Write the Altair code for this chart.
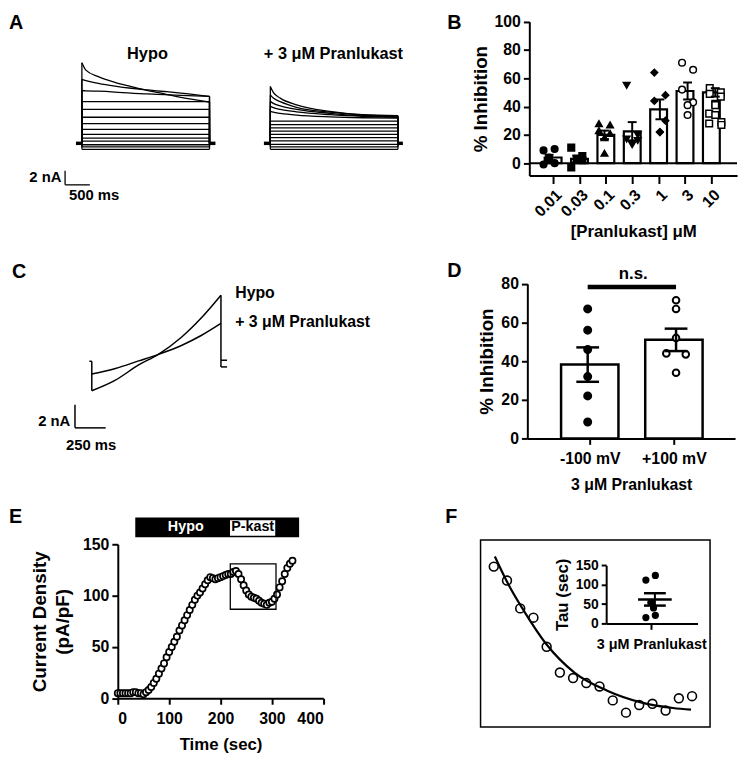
import altair as alt
import pandas as pd

OX, OY = 8, 8
W, H = 742, 755
FONT = "Liberation Sans"


def px(x):
    return x - OX


def py(y):
    return y - OY


ONE = pd.DataFrame({"k": [0]})

# ---------------- data ----------------
# Panel A: step currents (ms, nA)
A_T = [0, 80, 333, 667, 1000, 1333, 1667, 2000, 2580]
A_HYPO_DECAY = [
    [11.38, 10.35, 9.43, 8.63, 8.03, 7.47, 7.0, 6.49, 5.83],
    [9.05, 8.87, 8.49, 8.1, 7.79, 7.55, 7.33, 7.1, 6.63],
    [7.47, 7.42, 7.37, 7.25, 7.09, 6.98, 6.88, 6.78, 6.63],
]
A_HYPO_FLAT = [5.9, 4.8, 3.69, 2.78, 1.96, 1.26, 0.75, 0.3, -0.2, -0.5, -0.84]
A_PK_T = [0, 60, 200, 530, 1200, 1870, 2580]
A_PK_DECAY = [
    [8.03, 7.2, 6.39, 5.45, 4.53, 4.06, 3.92],
    [6.85, 6.4, 5.9, 5.1, 4.4, 4.0, 3.85],
    [5.93, 5.65, 5.3, 4.8, 4.25, 3.9, 3.75],
    [5.23, 5.05, 4.8, 4.45, 4.05, 3.8, 3.65],
    [4.53, 4.4, 4.25, 4.0, 3.75, 3.62, 3.55],
]
A_PK_FLAT = [3.13, 2.66, 2.2, 1.73, 1.26, 0.8, 0.34, -0.14, -0.5, -0.84]

# Panel B
B_CATS = ["0.01", "0.03", "0.1", "0.3", "1", "3", "10"]
B_MEAN = [4, 3, 20, 22.5, 38, 51, 50]
B_SEM = [1.9, 2.3, 3, 6.5, 7, 6, 3]
B_POINTS = [
    [9, 10, -1, 0, 3, 4],
    [11, 5, -3, 2, 3],
    [28, 27, 23, 21, 18, 7],
    [55, 20, 17, 16, 14, 13],
    [64, 48, 44, 30, 22, 22],
    [71, 66, 52, 43, 41, 34],
    [53, 50, 49, 47, 42, 41, 35, 34, 29, 28, 27],
]
B_SHAPES = ["circle", "square", "triangle-up", "triangle-down", "diamond", "circle", "square"]
B_FILLS = ["black", "black", "black", "black", "black", "white", "white"]

# Panel C: ramp currents (ms, nA)
C_T = [0, 193, 382, 543, 731, 892, 1053]
C_HYPO = [-2.49, -1.57, -0.26, 0.66, 2.14, 3.80, 5.78]
C_PK = [-1.05, -0.57, 0.09, 0.66, 1.43, 2.29, 3.34]

# Panel D
D_CATS = ["-100 mV", "+100 mV"]
D_MEAN = [38.2, 51]
D_SEM = [8.9, 5.8]
D_POINTS = [[67, 56, 46, 32, 22, 8.5], [71.5, 67, 52, 44, 43.5, 34]]

# Panel E
E_T = list(range(0, 345, 5))
E_V = [5, 5, 5, 5, 5, 5, 6, 6, 5, 5, 4, 6, 8, 11, 15, 19, 24, 29, 34, 40,
       45, 50, 55, 60, 66, 71, 76, 81, 86, 91, 96, 100, 103, 107, 111, 115, 118, 117, 116, 117,
       118, 119, 120, 121, 121, 123, 124, 121, 116, 110, 105, 101, 99, 98, 97, 95, 93, 92, 91, 93,
       94, 97, 101, 108, 114, 121, 127, 131, 134]

# Panel F
F_T = [230, 235, 240, 245, 250, 255, 260, 265, 270, 275, 280, 285, 290, 295, 300, 305]
F_V = [124.7, 121.4, 114.8, 112.6, 105.7, 99.6, 98.3, 97.1, 96.3, 93.0, 90.1, 91.9, 92.2, 90.6, 93.5, 94.0]
FIT_T = [230.4, 235.6, 241.8, 249.9, 260.5, 272.9, 285.3, 297.8, 304.6]
FIT_V = [127.1, 120.4, 113.8, 106.3, 99.6, 95.3, 92.6, 91.2, 90.8]
TAU = [112, 124, 54, 40, 21, 15]
TAU_MEAN = 62
TAU_SEM = 16


# ---------------- helpers ----------------
def axis(orient, offset, **kw):
    d = dict(orient=orient, offset=offset, domainColor="black", domainWidth=2,
             tickColor="black", tickWidth=2, tickSize=6, labelFont=FONT,
             labelFontWeight="bold", labelFontSize=16, labelColor="black",
             labelPadding=3, titleFont=FONT, titleFontWeight="bold",
             titleFontSize=19, titleColor="black", grid=False, labelOverlap=False)
    d.update(kw)
    return alt.Axis(**d)


def lin(domain, rng):
    return alt.Scale(domain=domain, range=rng, nice=False, zero=False)


def label(text, x, y, size=16, align="center", color="black"):
    return alt.Chart(ONE).mark_text(
        text=text, font=FONT, fontWeight="bold", fontSize=size, align=align,
        baseline="middle", color=color).encode(x=alt.value(px(x)), y=alt.value(py(y)))


layers = []

# ---------------- Panel A ----------------
xA = lin([0, 2580], [px(82.7), px(82.7 + 129)])
yA = lin([0, 10], [py(140.7), py(140.7 - 71.5)])
PK_OFF = 3810
END = 2580
rows, edges = [], []


def add_family(cond, off, tlist, decays, flats):
    k = 0
    for vals in decays:
        for t, v in zip(tlist, vals):
            rows.append(dict(id=f"{cond}{k}", t=t + off, v=v))
        edges.append(dict(t=off, a=0, b=vals[0]))
        edges.append(dict(t=off + END, a=0, b=vals[-1]))
        k += 1
    for lv in flats:
        rows.append(dict(id=f"{cond}{k}", t=off, v=lv))
        rows.append(dict(id=f"{cond}{k}", t=off + END, v=lv))
        edges.append(dict(t=off, a=0, b=lv))
        edges.append(dict(t=off + END, a=0, b=lv))
        k += 1


add_family("h", 0, A_T, A_HYPO_DECAY, A_HYPO_FLAT)
add_family("p", PK_OFF, A_PK_T, A_PK_DECAY, A_PK_FLAT)
dfA = pd.DataFrame(rows)
dfAe = pd.DataFrame(edges)
dfAh = pd.DataFrame([dict(t0=-120, t1=0), dict(t0=END, t1=END + 120),
                     dict(t0=PK_OFF - 130, t1=PK_OFF), dict(t0=PK_OFF + END, t1=PK_OFF + END + 100)])
layers.append(alt.Chart(dfA).mark_line(interpolate="monotone", color="black", strokeWidth=1.3).encode(
    x=alt.X("t:Q", scale=xA, axis=None), y=alt.Y("v:Q", scale=yA, axis=None), detail="id:N"))
layers.append(alt.Chart(dfAe).mark_rule(color="black", strokeWidth=1.3).encode(
    x=alt.X("t:Q", scale=xA, axis=None), y=alt.Y("a:Q", scale=yA, axis=None), y2="b:Q"))
layers.append(alt.Chart(dfAh).mark_rule(color="black", strokeWidth=3.5).encode(
    x=alt.X("t0:Q", scale=xA, axis=None), x2="t1:Q", y=alt.YDatum(0, scale=yA, axis=None)))
# scale bar A: 500 ms, 2 nA
dfAs = pd.DataFrame([dict(t0=-340, t1=-340, v0=-5.87, v1=-3.87), dict(t0=-340, t1=160, v0=-5.87, v1=-5.87)])
layers.append(alt.Chart(dfAs).mark_rule(color="black", strokeWidth=1.3).encode(
    x=alt.X("t0:Q", scale=xA, axis=None), x2="t1:Q", y=alt.Y("v0:Q", scale=yA, axis=None), y2="v1:Q"))
layers += [label("Hypo", 149, 50, 16.5), label("+ 3 μM Pranlukast", 337, 50, 16.5),
           label("2 nA", 62, 175, 15, align="right"), label("500 ms", 95, 192.5, 15)]

# ---------------- Panel B ----------------
xB = lin([-0.714, 6.786], [px(535), px(745)])
yB = lin([-8.8, 100], [py(173.3), py(17.7)])
dfB = pd.DataFrame({"i": list(range(7)), "mean": B_MEAN, "sem": B_SEM})
dfB["lo"] = dfB["mean"] - dfB["sem"]
dfB["hi"] = dfB["mean"] + dfB["sem"]
JIT = [-0.2, 0.2, -0.2, 0.2, 0.0, 0.0, -0.22, 0.0, 0.22, -0.22, 0.22]
rows = []
for i, vals in enumerate(B_POINTS):
    for j, v in enumerate(vals):
        rows.append({"xj": i + JIT[j], "v": v, "cat": B_CATS[i]})
ptsB = pd.DataFrame(rows)
exprB = "[" + ",".join("'%s'" % c for c in B_CATS) + "][datum.value]"
layers.append(alt.Chart(dfB).mark_bar(size=17, fill="white", stroke="black", strokeWidth=2.2).encode(
    x=alt.X("i:Q", scale=xB, axis=axis("bottom", py(173.3) - H, values=list(range(7)), labelExpr=exprB,
                                      labelAngle=315, tickSize=8, title="[Pranlukast] μM", titleFontSize=17)),
    y=alt.Y("mean:Q", scale=yB, axis=axis("left", -px(535), values=[0, 20, 40, 60, 80, 100], title="% Inhibition")),
    y2=alt.Y2Datum(0)))
layers.append(alt.Chart(ONE).mark_rule(color="black", strokeWidth=2).encode(
    x=alt.XDatum(-0.714, scale=xB, axis=None), x2=alt.X2Datum(6.786), y=alt.YDatum(0, scale=yB, axis=None)))
layers.append(alt.Chart(ptsB).mark_point(filled=True, stroke="black", strokeWidth=1.5, size=45, opacity=1).encode(
    x=alt.X("xj:Q", scale=xB, axis=None), y=alt.Y("v:Q", scale=yB, axis=None),
    shape=alt.Shape("cat:N", scale=alt.Scale(domain=B_CATS, range=B_SHAPES), legend=None),
    fill=alt.Fill("cat:N", scale=alt.Scale(domain=B_CATS, range=B_FILLS), legend=None)))
layers.append(alt.Chart(dfB).mark_rule(color="black", strokeWidth=2).encode(
    x=alt.X("i:Q", scale=xB, axis=None), y=alt.Y("lo:Q", scale=yB, axis=None), y2="hi:Q"))
for f in ("lo", "hi"):
    layers.append(alt.Chart(dfB).mark_tick(orient="horizontal", size=9, thickness=2, color="black", opacity=1).encode(
        x=alt.X("i:Q", scale=xB, axis=None), y=alt.Y(f + ":Q", scale=yB, axis=None)))

# ---------------- Panel C ----------------
xC = lin([0, 1000], [px(92.7), px(92.7 + 124)])
yC = lin([0, 5], [py(361.7), py(361.7 - 58.35)])
dfC = pd.DataFrame([dict(id="h", t=t, v=v) for t, v in zip(C_T, C_HYPO)] +
                   [dict(id="p", t=t, v=v) for t, v in zip(C_T, C_PK)])
layers.append(alt.Chart(dfC).mark_line(interpolate="monotone", color="black", strokeWidth=1.5).encode(
    x=alt.X("t:Q", scale=xC, axis=None), y=alt.Y("v:Q", scale=yC, axis=None), detail="id:N"))
tend = C_T[-1]
dfCe = pd.DataFrame([
    dict(t0=0, t1=0, v0=0.06, v1=min(C_HYPO[0], C_PK[0])),
    dict(t0=-20, t1=0, v0=0.06, v1=0.06),
    dict(t0=tend, t1=tend, v0=-0.43, v1=max(C_HYPO[-1], C_PK[-1])),
    dict(t0=tend, t1=tend + 50, v0=-0.43, v1=-0.43),
    dict(t0=tend, t1=tend + 50, v0=0.15, v1=0.15),
    dict(t0=-137, t1=-137, v0=-5.71, v1=-3.71),
    dict(t0=-137, t1=113, v0=-5.71, v1=-5.71),
])
layers.append(alt.Chart(dfCe).mark_rule(color="black", strokeWidth=1.5).encode(
    x=alt.X("t0:Q", scale=xC, axis=None), x2="t1:Q", y=alt.Y("v0:Q", scale=yC, axis=None), y2="v1:Q"))
layers += [label("Hypo", 237.7, 291.7, 16, align="left"),
           label("+ 3 μM Pranlukast", 237.7, 321.7, 16, align="left"),
           label("2 nA", 71, 421, 15, align="right"), label("250 ms", 92, 446, 15)]

# ---------------- Panel D ----------------
xD = lin([-0.683, 1.668], [px(533), px(743)])
yD = lin([0, 80], [py(439), py(282.7)])
dfD = pd.DataFrame({"i": [0, 1], "mean": D_MEAN, "sem": D_SEM})
dfD["lo"] = dfD["mean"] - dfD["sem"]
dfD["hi"] = dfD["mean"] + dfD["sem"]
JD = [[0, 0, 0, 0, 0, 0], [0, 0, 0, -0.11, 0.11, 0]]
ptsD = [pd.DataFrame({"xj": [i + j for j in JD[i]], "v": D_POINTS[i]}) for i in range(2)]
exprD = "[" + ",".join("'%s'" % c for c in D_CATS) + "][datum.value]"
layers.append(alt.Chart(dfD).mark_bar(size=58, fill="white", stroke="black", strokeWidth=2.5).encode(
    x=alt.X("i:Q", scale=xD, axis=axis("bottom", py(439) - H, values=[0, 1], labelExpr=exprD,
                                      title="3 μM Pranlukast", titleFontSize=16, labelPadding=6,
                                      titlePadding=11)),
    y=alt.Y("mean:Q", scale=yD, axis=axis("left", -px(533), values=[0, 20, 40, 60, 80], title="% Inhibition")),
    y2=alt.Y2Datum(0)))
layers.append(alt.Chart(ptsD[0]).mark_point(filled=True, fill="black", stroke="black", size=50, opacity=1,
                                            shape="circle").encode(
    x=alt.X("xj:Q", scale=xD, axis=None), y=alt.Y("v:Q", scale=yD, axis=None)))
layers.append(alt.Chart(ptsD[1]).mark_point(filled=True, fill="white", stroke="black", strokeWidth=2, size=45,
                                            opacity=1, shape="circle").encode(
    x=alt.X("xj:Q", scale=xD, axis=None), y=alt.Y("v:Q", scale=yD, axis=None)))
layers.append(alt.Chart(dfD).mark_rule(color="black", strokeWidth=2.5).encode(
    x=alt.X("i:Q", scale=xD, axis=None), y=alt.Y("lo:Q", scale=yD, axis=None), y2="hi:Q"))
for f in ("lo", "hi"):
    layers.append(alt.Chart(dfD).mark_tick(orient="horizontal", size=23, thickness=2.5, color="black", opacity=1).encode(
        x=alt.X("i:Q", scale=xD, axis=None), y=alt.Y(f + ":Q", scale=yD, axis=None)))
layers.append(alt.Chart(ONE).mark_rule(color="black", strokeWidth=4.5).encode(
    x=alt.XDatum(0, scale=xD, axis=None), x2=alt.X2Datum(1), y=alt.YDatum(78.3, scale=yD, axis=None)))
layers.append(label("n.s.", 640, 272.5, 17))

# ---------------- Panel E ----------------
xE = lin([0, 400], [px(119), px(326.7)])
yE = lin([0, 150], [py(701.7), py(546)])
dfE = pd.DataFrame({"t": E_T, "v": E_V})
layers.append(alt.Chart(ONE).mark_rect(color="black").encode(
    x=alt.XDatum(34, scale=xE, axis=None), x2=alt.X2Datum(353),
    y=alt.YDatum(156.8, scale=yE, axis=None), y2=alt.Y2Datum(176)))
layers.append(alt.Chart(ONE).mark_rect(color="white").encode(
    x=alt.XDatum(218.5, scale=xE, axis=None), x2=alt.X2Datum(306.5),
    y=alt.YDatum(158.4, scale=yE, axis=None), y2=alt.Y2Datum(173.4)))
layers.append(alt.Chart(dfE).mark_point(filled=True, fill="white", stroke="black", strokeWidth=1.7, size=40,
                                        opacity=1, shape="circle").encode(
    x=alt.X("t:Q", scale=xE, axis=axis("bottom", py(701.7) - H, values=[0, 100, 200, 300, 400],
                                     title="Time (sec)", titleFontSize=17, labelPadding=6,
                                     titlePadding=11)),
    y=alt.Y("v:Q", scale=yE, axis=axis("left", -px(119), values=[0, 50, 100, 150],
                                     title=["Current Density", "(pA/pF)"], titleLineHeight=23,
                                     titlePadding=10))))
layers.append(alt.Chart(ONE).mark_rect(fillOpacity=0, stroke="black", strokeWidth=1.3).encode(
    x=alt.XDatum(219, scale=xE, axis=None), x2=alt.X2Datum(308),
    y=alt.YDatum(86.7, scale=yE, axis=None), y2=alt.Y2Datum(131)))
layers += [label("Hypo", 187.7, 529, 14.5, color="white"), label("P-kast", 255.3, 529, 14.5)]

# ---------------- Panel F ----------------
xF = lin([225, 311.8], [px(485.7), px(717.7)])
yF = lin([86.7, 131], [py(730.7), py(541.7)])
layers.append(alt.Chart(ONE).mark_rect(fillOpacity=0, stroke="black", strokeWidth=1.5).encode(
    x=alt.XDatum(225, scale=xF, axis=None), x2=alt.X2Datum(311.8),
    y=alt.YDatum(86.7, scale=yF, axis=None), y2=alt.Y2Datum(131)))
layers.append(alt.Chart(pd.DataFrame({"t": FIT_T, "v": FIT_V})).mark_line(
    interpolate="monotone", color="black", strokeWidth=2.2).encode(
    x=alt.X("t:Q", scale=xF, axis=None), y=alt.Y("v:Q", scale=yF, axis=None)))
layers.append(alt.Chart(pd.DataFrame({"t": F_T, "v": F_V})).mark_point(
    filled=False, stroke="black", strokeWidth=1.6, size=80, shape="circle", opacity=1).encode(
    x=alt.X("t:Q", scale=xF, axis=None), y=alt.Y("v:Q", scale=yF, axis=None)))

# inset
xI = lin([-1, 1.024], [px(612.7), px(705)])
yI = lin([0, 150], [py(626), py(567.3)])
JI = [-0.12, 0.09, -0.01, 0.05, 0.09, -0.12]
dfI = pd.DataFrame({"xj": JI, "v": TAU})
dfIm = pd.DataFrame({"x": [0.08], "m": [TAU_MEAN], "lo": [TAU_MEAN - TAU_SEM], "hi": [TAU_MEAN + TAU_SEM]})
layers.append(alt.Chart(dfI).mark_point(filled=True, fill="black", stroke="black", size=28, opacity=1,
                                        shape="circle").encode(
    x=alt.X("xj:Q", scale=xI, axis=axis("bottom", py(626) - H, values=[0], labelExpr="'3 μM Pranlukast'",
                                       labelFontSize=14.5, title=None, tickSize=6, labelPadding=8)),
    y=alt.Y("v:Q", scale=yI, axis=axis("left", -px(612.7), values=[0, 50, 100, 150], labelFontSize=14,
                                     title="Tau (sec)", titleFontSize=17, tickSize=5))))
layers.append(alt.Chart(dfIm).mark_rule(color="black", strokeWidth=2).encode(
    x=alt.X("x:Q", scale=xI, axis=None), y=alt.Y("lo:Q", scale=yI, axis=None), y2="hi:Q"))
for f, s in (("lo", 22), ("hi", 22), ("m", 34)):
    layers.append(alt.Chart(dfIm).mark_tick(orient="horizontal", size=s, thickness=2.5, color="black", opacity=1).encode(
        x=alt.X("x:Q", scale=xI, axis=None), y=alt.Y(f + ":Q", scale=yI, axis=None)))

# ---------------- panel letters ----------------
layers += [label("A", 9, 19, 20, align="left"), label("B", 452, 19, 20, align="left"),
           label("C", 12, 271, 20, align="left"), label("D", 452, 270, 20, align="left"),
           label("E", 9, 518, 20, align="left"), label("F", 450, 518, 20, align="left")]

chart = alt.layer(*layers).resolve_scale(
    x="independent", y="independent", shape="independent", fill="independent"
).properties(width=W, height=H, padding=0, autosize="none", background="white"
).configure_view(stroke=None)

chart.save("out.html", embed_options={"renderer": "svg", "actions": False})
